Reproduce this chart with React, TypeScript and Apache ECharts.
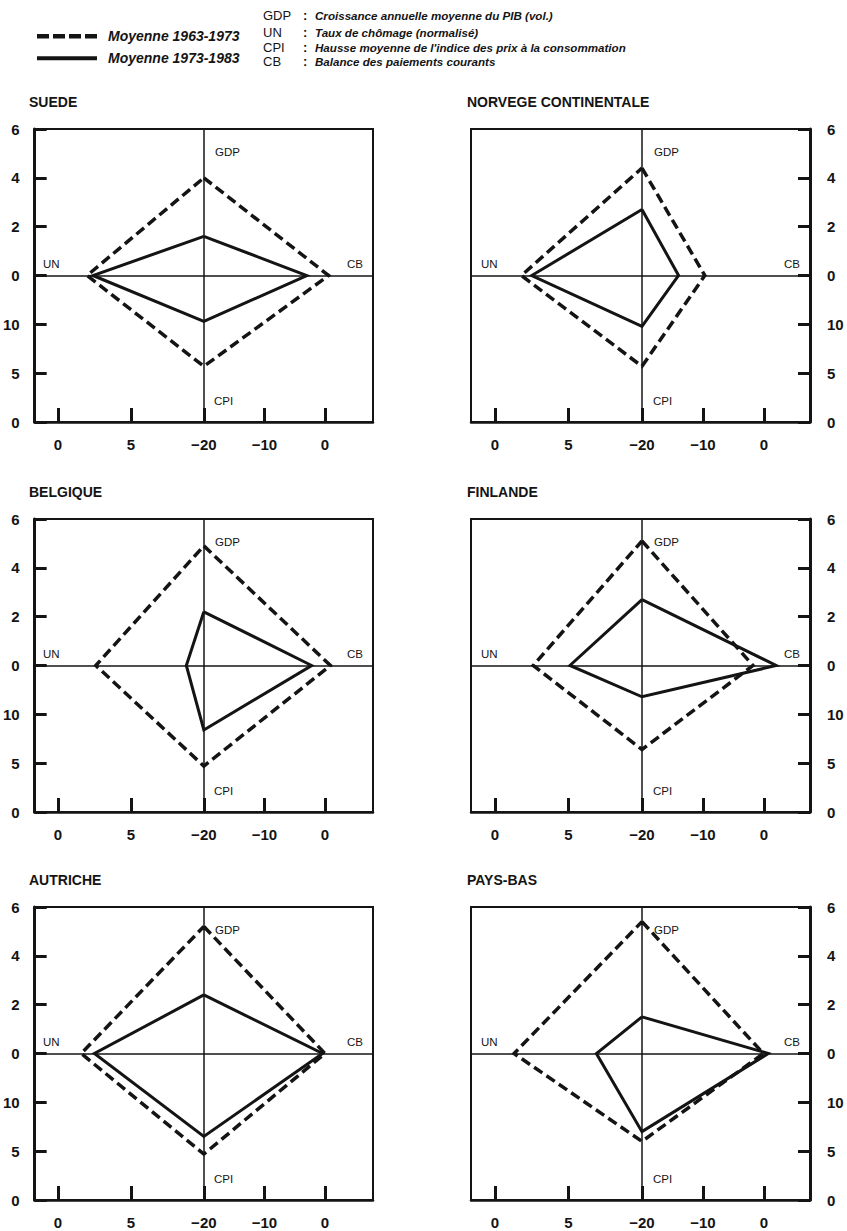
import React, { useEffect, useRef } from "react";
import * as echarts from "echarts";

// ---------- Data ----------
const COUNTRIES = ["SUEDE", "NORVEGE CONTINENTALE", "BELGIQUE", "FINLANDE", "AUTRICHE", "PAYS-BAS"];
const SERIES_NAMES = ["Moyenne 1963-1973", "Moyenne 1973-1983"];

// Moyenne 1963-1973 (dashed)
const GDP_1963_73 = [4.0, 4.4, 4.9, 5.1, 5.2, 5.4];
const UN_1963_73 = [2.0, 1.8, 2.6, 2.6, 1.6, 1.3];
const CPI_1963_73 = [5.7, 5.7, 4.7, 6.4, 4.7, 6.0];
const CB_1963_73 = [0.6, -9.7, 0.9, -1.8, 0.0, -0.1];

// Moyenne 1973-1983 (solid)
const GDP_1973_83 = [1.6, 2.7, 2.2, 2.7, 2.4, 1.5];
const UN_1973_83 = [2.4, 2.5, 8.8, 5.1, 2.5, 6.9];
const CPI_1973_83 = [10.3, 9.8, 8.4, 11.8, 6.5, 7.0];
const CB_1973_83 = [-3.0, -14.0, -2.2, 2.0, -0.4, 0.7];

// Tick values and labels
const GDP_TICKS = [0, 2, 4, 6];
const CPI_TICKS = [10, 5, 0];
const UN_TICKS = [0, 5];
const UN_TICK_LABELS = ["0", "5"];
const CB_TICKS = [-20, -10, 0];
const CB_TICK_LABELS = ["\u221220", "\u221210", "0"];

const KEY_ABBR = ["GDP", "UN", "CPI", "CB"];
const KEY_TEXT = [
  "Croissance annuelle moyenne du PIB (vol.)",
  "Taux de chômage (normalisé)",
  "Hausse moyenne de l'indice des prix à la consommation",
  "Balance des paiements courants",
];

// ---------- Scales (axis quadrants) ----------
const UN_CENTER = 10;
const CB_CENTER = -20;
const CB_SCALE = 0.415;
const CPI_CENTER = 15;
const CPI_SCALE = 0.4;

const xUN = (v: number) => v - UN_CENTER;
const xCB = (v: number) => (v - CB_CENTER) * CB_SCALE;
const yGDP = (v: number) => v;
const yCPI = (v: number) => -(CPI_CENTER - v) * CPI_SCALE;

// ---------- Layout ----------
const W = 847;
const H = 1231;
const COL_LEFT = [33, 471];
const COL_WIDTH = [340, 339];
const COL_XMIN = [-11.59, -11.63];
const COL_XMAX = [11.59, 11.43];
const ROW_TOP = [129, 519, 907];
const GRID_H = 293;
const Y_MIN = -6;
const Y_MAX = 6;

const INK = "#141414";
const FONT = "'Liberation Sans', Arial, sans-serif";

const DASH_ICON = "path://M0,0h12v4.5h-12z M16,0h12v4.5h-12z M32,0h12v4.5h-12z M48,0h12v4.5h-12z";
const SOLID_ICON = "path://M0,0h60v4h-60z";

function diamond(gdp: number, cb: number, cpi: number, un: number) {
  return [
    [0, yGDP(gdp)],
    [xCB(cb), 0],
    [0, yCPI(cpi)],
    [xUN(un), 0],
    [0, yGDP(gdp)],
  ];
}

function buildOption() {
  const xTicks = [
    ...UN_TICKS.map((v, i) => ({ pos: xUN(v), label: UN_TICK_LABELS[i] })),
    ...CB_TICKS.map((v, i) => ({ pos: xCB(v), label: CB_TICK_LABELS[i] })),
  ].filter((t, i, arr) => arr.findIndex((u) => Math.abs(u.pos - t.pos) < 1e-6) === i);
  const yTicks = [
    ...GDP_TICKS.map((v) => ({ pos: yGDP(v), label: String(v) })),
    ...CPI_TICKS.map((v) => ({ pos: yCPI(v), label: String(v) })),
  ];
  const nearest = (list: { pos: number; label: string }[], v: number) => {
    let best = list[0];
    for (const t of list) if (Math.abs(t.pos - v) < Math.abs(best.pos - v)) best = t;
    return best.label;
  };

  const grid: any[] = [];
  const xAxis: any[] = [];
  const yAxis: any[] = [];
  const series: any[] = [];
  const graphic: any[] = [];

  const axisLabelStyle = { fontSize: 15, fontWeight: "bold", color: INK, fontFamily: FONT };
  const smallLabel = { fontSize: 11.5, fill: INK, fontFamily: FONT };

  for (let i = 0; i < COUNTRIES.length; i++) {
    const col = i % 2;
    const row = Math.floor(i / 2);
    const left = COL_LEFT[col];
    const top = ROW_TOP[row];
    const width = COL_WIDTH[col];
    const xMin = COL_XMIN[col];
    const xMax = COL_XMAX[col];
    const cx = left + ((0 - xMin) / (xMax - xMin)) * width;
    const cy = top + ((Y_MAX - 0) / (Y_MAX - Y_MIN)) * GRID_H;
    const right = left + width;
    const bottom = top + GRID_H;

    grid.push({ left, top, width, height: GRID_H, show: true, borderColor: INK, borderWidth: 2 });
    xAxis.push({
      type: "value",
      gridIndex: i,
      min: xMin,
      max: xMax,
      position: "bottom",
      axisLine: { show: true, onZero: false, lineStyle: { color: INK, width: 2.5 } },
      axisTick: {
        show: true,
        inside: true,
        length: 14,
        customValues: xTicks.map((t) => t.pos),
        lineStyle: { color: INK, width: 3 },
      },
      axisLabel: {
        ...axisLabelStyle,
        margin: 15,
        customValues: xTicks.map((t) => t.pos),
        formatter: (v: number) => nearest(xTicks, v),
      },
      splitLine: { show: false },
    });
    yAxis.push({
      type: "value",
      gridIndex: i,
      min: Y_MIN,
      max: Y_MAX,
      position: col === 0 ? "left" : "right",
      axisLine: { show: true, onZero: false, lineStyle: { color: INK, width: 3 } },
      axisTick: {
        show: true,
        inside: true,
        length: 12,
        customValues: yTicks.map((t) => t.pos),
        lineStyle: { color: INK, width: 3 },
      },
      axisLabel: {
        ...axisLabelStyle,
        margin: col === 0 ? 15 : 17,
        customValues: yTicks.map((t) => t.pos),
        formatter: (v: number) => nearest(yTicks, v),
      },
      splitLine: { show: false },
    });

    series.push({
      type: "line",
      name: SERIES_NAMES[0],
      xAxisIndex: i,
      yAxisIndex: i,
      data: diamond(GDP_1963_73[i], CB_1963_73[i], CPI_1963_73[i], UN_1963_73[i]),
      symbol: "none",
      lineStyle: { color: INK, width: 3.5, type: [10, 5], join: "miter", miterLimit: 6 },
      itemStyle: { color: INK },
      z: 3,
      markLine: {
        silent: true,
        symbol: ["none", "none"],
        label: { show: false },
        lineStyle: { color: INK, width: 1.5, type: "solid" },
        data: [{ xAxis: 0 }, { yAxis: 0 }],
        z: 1,
      },
    });
    series.push({
      type: "line",
      name: SERIES_NAMES[1],
      xAxisIndex: i,
      yAxisIndex: i,
      data: diamond(GDP_1973_83[i], CB_1973_83[i], CPI_1973_83[i], UN_1973_83[i]),
      symbol: "none",
      lineStyle: { color: INK, width: 3, type: "solid", join: "miter", miterLimit: 6 },
      itemStyle: { color: INK },
      z: 4,
    });

    // Panel title
    graphic.push({
      type: "text",
      x: left - 4,
      y: top - 27,
      style: { text: COUNTRIES[i], fontSize: 14, fontWeight: "bold", fill: INK, fontFamily: FONT, verticalAlign: "middle" },
    });
    // Quadrant names
    graphic.push({ type: "text", x: cx + 12, y: top + 23, style: { ...smallLabel, text: "GDP", verticalAlign: "middle" } });
    graphic.push({ type: "text", x: cx + 11, y: bottom - 21, style: { ...smallLabel, text: "CPI", verticalAlign: "middle" } });
    graphic.push({ type: "text", x: left + 10, y: cy - 12, style: { ...smallLabel, text: "UN", verticalAlign: "middle" } });
    graphic.push({ type: "text", x: right - 10, y: cy - 12, style: { ...smallLabel, text: "CB", align: "right", verticalAlign: "middle" } });
  }

  // Key of abbreviations
  const KEY_Y = [15, 32.3, 47, 61.7];
  KEY_ABBR.forEach((abbr, k) => {
    graphic.push({ type: "text", x: 263, y: KEY_Y[k], style: { text: abbr, fontSize: 13, fill: INK, fontFamily: FONT, verticalAlign: "middle" } });
    graphic.push({ type: "text", x: 303, y: KEY_Y[k], style: { text: ":", fontSize: 13, fontWeight: "bold", fill: INK, fontFamily: FONT, verticalAlign: "middle" } });
    graphic.push({
      type: "text",
      x: 315,
      y: KEY_Y[k],
      style: { text: KEY_TEXT[k], fontSize: 11.6, fontStyle: "italic", fontWeight: "bold", fill: INK, fontFamily: FONT, verticalAlign: "middle" },
    });
  });

  return {
    animation: false,
    backgroundColor: "#ffffff",
    legend: {
      data: [
        { name: SERIES_NAMES[0], icon: DASH_ICON },
        { name: SERIES_NAMES[1], icon: SOLID_ICON },
      ],
      orient: "vertical",
      left: 32,
      top: 24.3,
      itemWidth: 60,
      itemHeight: 16,
      itemGap: 8,
      symbolKeepAspect: true,
      selectedMode: false,
      itemStyle: { color: INK },
      textStyle: { fontSize: 14, fontStyle: "italic", fontWeight: "bold", color: INK, fontFamily: FONT, padding: [0, 0, 0, 6] },
    },
    grid,
    xAxis,
    yAxis,
    series,
    graphic,
  };
}

export default function App() {
  const ref = useRef<HTMLDivElement>(null);
  useEffect(() => {
    if (!ref.current) return;
    const chart = echarts.init(ref.current, undefined, { renderer: "svg" });
    chart.setOption(buildOption() as any);
    return () => chart.dispose();
  }, []);
  return (
    <div
      ref={ref}
      style={{ position: "absolute", left: 0, top: 0, width: W, height: H, background: "#fff" }}
    />
  );
}
